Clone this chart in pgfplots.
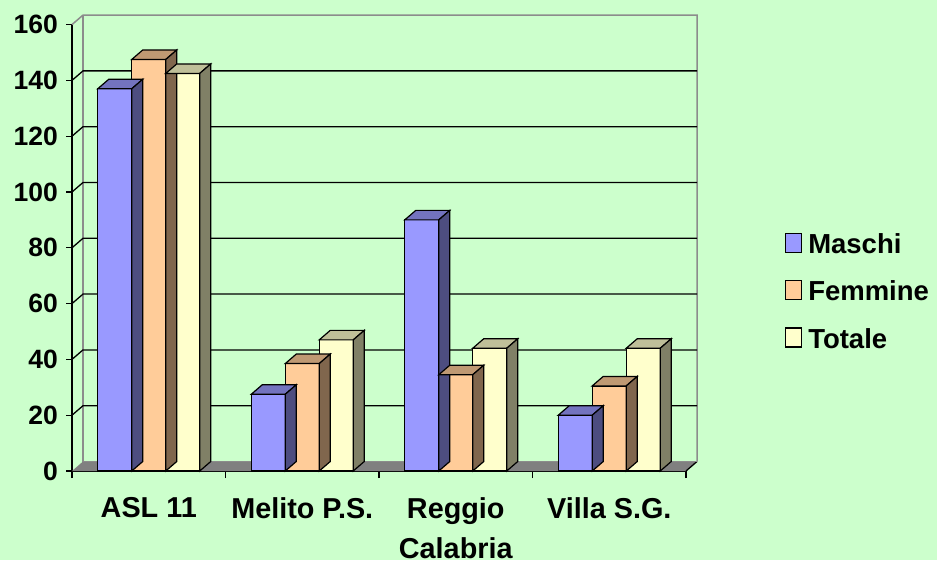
\documentclass[border=0pt]{standalone}
\usepackage{pgfplots}
\usepackage{pgfplotstable}
\usepackage{fontspec}
\setmainfont{Liberation Sans}
\pgfplotsset{compat=1.18}

\definecolor{bg}{HTML}{CCFFCC}
\definecolor{mfront}{HTML}{9999FF}
\definecolor{mtop}{HTML}{7373BF}
\definecolor{mside}{HTML}{4D4D80}
\definecolor{ffront}{HTML}{FFCC99}
\definecolor{ftop}{HTML}{BF9973}
\definecolor{fside}{HTML}{80664D}
\definecolor{tfront}{HTML}{FFFFCC}
\definecolor{ttop}{HTML}{BFBF99}
\definecolor{tside}{HTML}{808066}
\definecolor{floorgray}{HTML}{808080}
\definecolor{wallgray}{HTML}{8C8C8C}

\pgfplotstableread{
pos Maschi Femmine Totale
0 137 147.5 142.5
1 27.5 38.5 47
2 90 34.5 44
3 20 30.5 44
}\rates

\pgfdeclareplotmark{blank}{}
\newcommand\yu{2.79}
% column with its 3D top and side, drawn at the top centre of each bar
\pgfplotsset{
  col3d/.style n args={3}{
    ybar, bar width=34pt, fill=#1, draw=black, line width=1.2pt,
    scatter, mark=blank, point meta=y,
    visualization depends on={rawy \as \rawy},
    scatter/@pre marker code/.code={
      \pgfmathsetmacro\hh{\rawy*\yu}
      \filldraw[fill=#2, draw=black, line width=1.2pt]
        (-17pt,0pt) -- (17pt,0pt) -- (28pt,9.5pt) -- (-6pt,9.5pt) -- cycle;
      \filldraw[fill=#3, draw=black, line width=1.2pt]
        (17pt,0pt) -- (28pt,9.5pt) -- (28pt,9.5pt-\hh pt) -- (17pt,-\hh pt) -- cycle;
    },
    scatter/@post marker code/.code={},
    legend image code/.code={\draw[fill=#1, draw=black, line width=1.2pt] (0pt,-8pt) rectangle (16pt,11pt);},
  },
}

\begin{document}
\begin{tikzpicture}
\path[use as bounding box, fill=bg] (0,0) rectangle (937pt,560pt);
\begin{axis}[
  at={(72pt,89pt)}, anchor=south west,
  x=153.5pt, y=\yu pt,
  xmin=-0.5, xmax=3.5, ymin=0, ymax=160,
  clip=false,
  axis lines*=left,
  axis line style={black, line width=1.3pt},
  xtick={0,1,2,3},
  xticklabels={ASL 11, Melito P.S., Reggio\\Calabria, Villa S.G.},
  minor xtick={-0.5,0.5,1.5,2.5,3.5},
  ytick={0,20,...,160},
  tick align=outside,
  major tick length=6pt, minor tick length=7pt,
  major x tick style={draw=none},
  tick style={black, line width=1.3pt},
  /pgf/number format/assume math mode=true,
  yticklabel style={font=\fontsize{26.5}{32}\selectfont\bfseries, anchor=east, inner sep=0pt, xshift=-8pt},
  xticklabel style={font=\fontsize{28.8}{40.3}\selectfont\bfseries, align=center, anchor=north, inner sep=0pt, yshift=-20pt},
  legend style={draw=none, fill=none, at={(1.161,0.402)}, anchor=west,
    font=\fontsize{27.5}{33}\selectfont\bfseries, row sep=22pt, column sep=4pt, inner sep=0pt},
  legend cell align=left,
]
% floor and back wall
\fill[floorgray] (axis cs:-0.5,0) -- (axis cs:3.5,0) -- ([shift={(11pt,9.5pt)}]axis cs:3.5,0) -- ([shift={(11pt,9.5pt)}]axis cs:-0.5,0) -- cycle;
\draw[black, line width=1.3pt] (axis cs:3.5,0) -- ([shift={(11pt,9.5pt)}]axis cs:3.5,0);
\draw[wallgray, line width=1.5pt] ([shift={(11pt,9.5pt)}]axis cs:-0.5,0) -- ([shift={(11pt,9.5pt)}]axis cs:3.5,0);
\draw[wallgray, line width=1.5pt] (axis cs:-0.5,160) -- ([shift={(11pt,9.5pt)}]axis cs:-0.5,160) -- ([shift={(11pt,9.5pt)}]axis cs:3.5,160) -- ([shift={(11pt,9.5pt)}]axis cs:3.5,0);
\draw[wallgray, line width=1.5pt] ([shift={(11pt,9.5pt)}]axis cs:-0.5,0) -- ([shift={(11pt,9.5pt)}]axis cs:-0.5,160);
\pgfplotsinvokeforeach{20,40,...,140}{
  \draw[black, line width=1.3pt] (axis cs:-0.5,#1) -- ([shift={(11pt,9.5pt)}]axis cs:-0.5,#1) -- ([shift={(11pt,9.5pt)}]axis cs:3.5,#1);
}

\addplot[col3d={mfront}{mtop}{mside}] table[x expr=\thisrow{pos}-0.2215, y=Maschi] {\rates};
\addlegendentry{Maschi}
\addplot[col3d={ffront}{ftop}{fside}] table[x expr=\thisrow{pos}, y=Femmine] {\rates};
\addlegendentry{Femmine}
\addplot[col3d={tfront}{ttop}{tside}] table[x expr=\thisrow{pos}+0.2215, y=Totale] {\rates};
\addlegendentry{Totale}
\end{axis}
\end{tikzpicture}
\end{document}
